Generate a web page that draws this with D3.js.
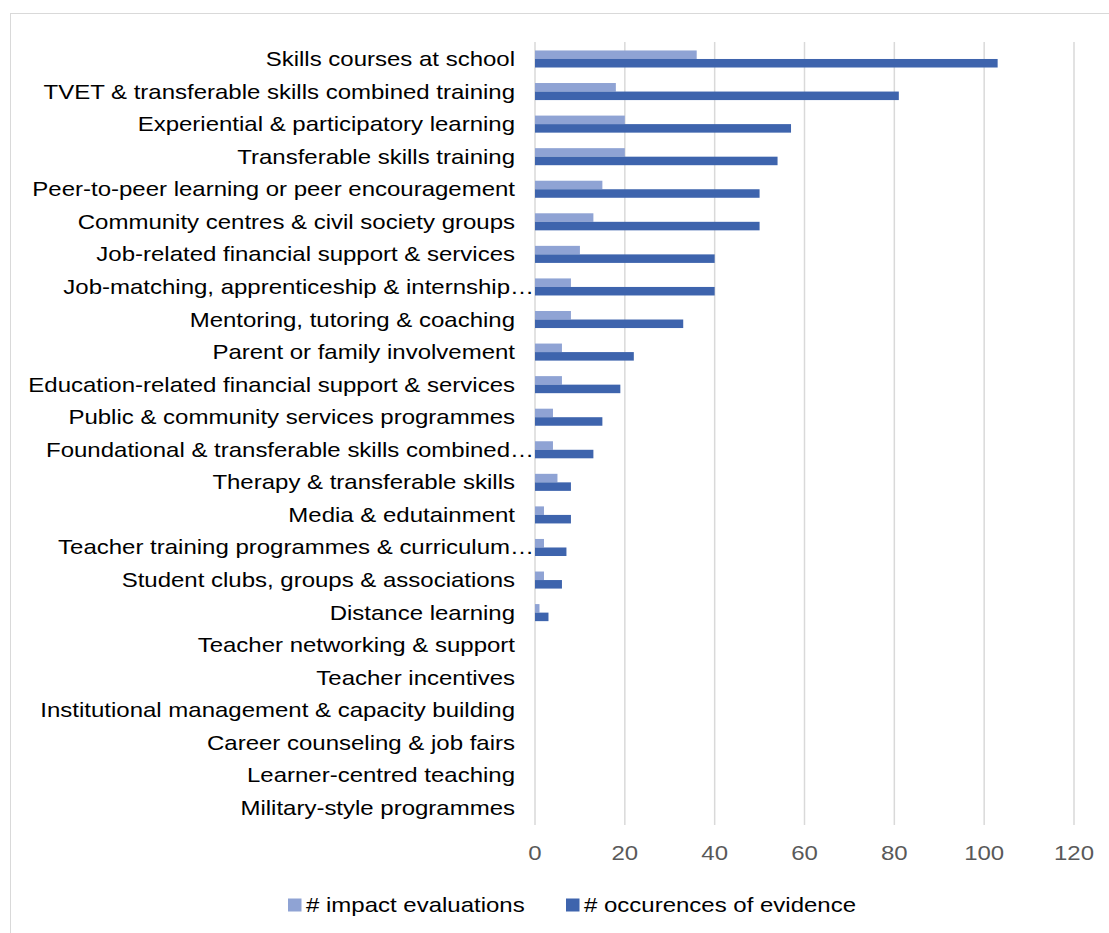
<!DOCTYPE html>
<html><head><meta charset="utf-8">
<script src="https://cdn.jsdelivr.net/npm/d3@7"></script>
<style>body{margin:0;background:#fff;}svg{display:block;font-family:"Liberation Sans",Arial,sans-serif;}</style>
</head><body><svg id="c" width="1109" height="933"></svg>
<script>
const categories = [
"Skills courses at school",
"TVET & transferable skills combined training",
"Experiential & participatory learning",
"Transferable skills training",
"Peer-to-peer learning or peer encouragement",
"Community centres & civil society groups",
"Job-related financial support & services",
"Job-matching, apprenticeship & internship…",
"Mentoring, tutoring & coaching",
"Parent or family involvement",
"Education-related financial support & services",
"Public & community services programmes",
"Foundational & transferable skills combined…",
"Therapy & transferable skills",
"Media & edutainment",
"Teacher training programmes & curriculum…",
"Student clubs, groups & associations",
"Distance learning",
"Teacher networking & support",
"Teacher incentives",
"Institutional management & capacity building",
"Career counseling & job fairs",
"Learner-centred teaching",
"Military-style programmes"];
const impactEvaluations = [36,18,20,20,15,13,10,8,8,6,6,4,4,5,2,2,2,1,0,0,0,0,0,0];
const occurrences = [103,81,57,54,50,50,40,40,33,22,19,15,13,8,8,7,6,3,0,0,0,0,0,0];
const xTicks = [0,20,40,60,80,100,120];
const seriesNames = ["# impact evaluations","# occurences of evidence"];
const colors = ["#8FA3D4","#3E64AD"];
const SX = 1.2; // horizontal text stretch seen in the reference

const svg = d3.select("#c");
svg.append("rect").attr("x",10.5).attr("y",13.5).attr("width",1120).attr("height",940)
  .attr("fill","none").attr("stroke","#d9d9d9").attr("stroke-width",1);

const x = d3.scaleLinear().domain([0,120]).range([535,1074]);
const y = d3.scaleBand().domain(categories).range([42.7,824.3]);
const inner = d3.scaleBand().domain([0,1]).range([0,y.bandwidth()]).paddingOuter(0.91).paddingInner(0);

// gridlines
svg.append("g").selectAll("line").data(xTicks).join("line")
  .attr("x1",d=>x(d)).attr("x2",d=>x(d)).attr("y1",42).attr("y2",825)
  .attr("stroke","#d9d9d9").attr("stroke-width",1.5);

// tick labels
svg.append("g").selectAll("text").data(xTicks).join("text")
  .attr("transform",d=>`translate(${x(d)},860) scale(${SX},1)`)
  .attr("text-anchor","middle")
  .attr("fill","#595959").attr("font-size",20).text(d=>d);

// category labels (truncated ones overflow toward the axis, as in the reference)
svg.append("g").selectAll("text").data(categories).join("text")
  .attr("transform",d=>`translate(${d.endsWith("…") ? 534 : 515},${y(d)+y.bandwidth()/2}) scale(${SX},1)`)
  .attr("dy","0.35em")
  .attr("text-anchor","end").attr("fill","#000").attr("font-size",20).text(d=>d);

const data = [impactEvaluations, occurrences];
data.forEach((vals,si)=>{
  svg.append("g").selectAll("rect").data(vals).join("rect")
    .attr("x",x(0)).attr("y",(d,i)=>y(categories[i])+inner(si))
    .attr("width",d=>x(d)-x(0)).attr("height",inner.bandwidth())
    .attr("fill",colors[si]);
});

// legend
const leg = [{x:288,t:seriesNames[0],c:colors[0]},{x:566,t:seriesNames[1],c:colors[1]}];
leg.forEach(l=>{
  svg.append("rect").attr("x",l.x).attr("y",898.5).attr("width",13.5).attr("height",13).attr("fill",l.c);
  svg.append("text").attr("transform",`translate(${l.x+18},905) scale(${SX},1)`)
    .attr("dy","0.35em").attr("font-size",20).attr("fill","#000").text(l.t);
});
</script></body></html>
